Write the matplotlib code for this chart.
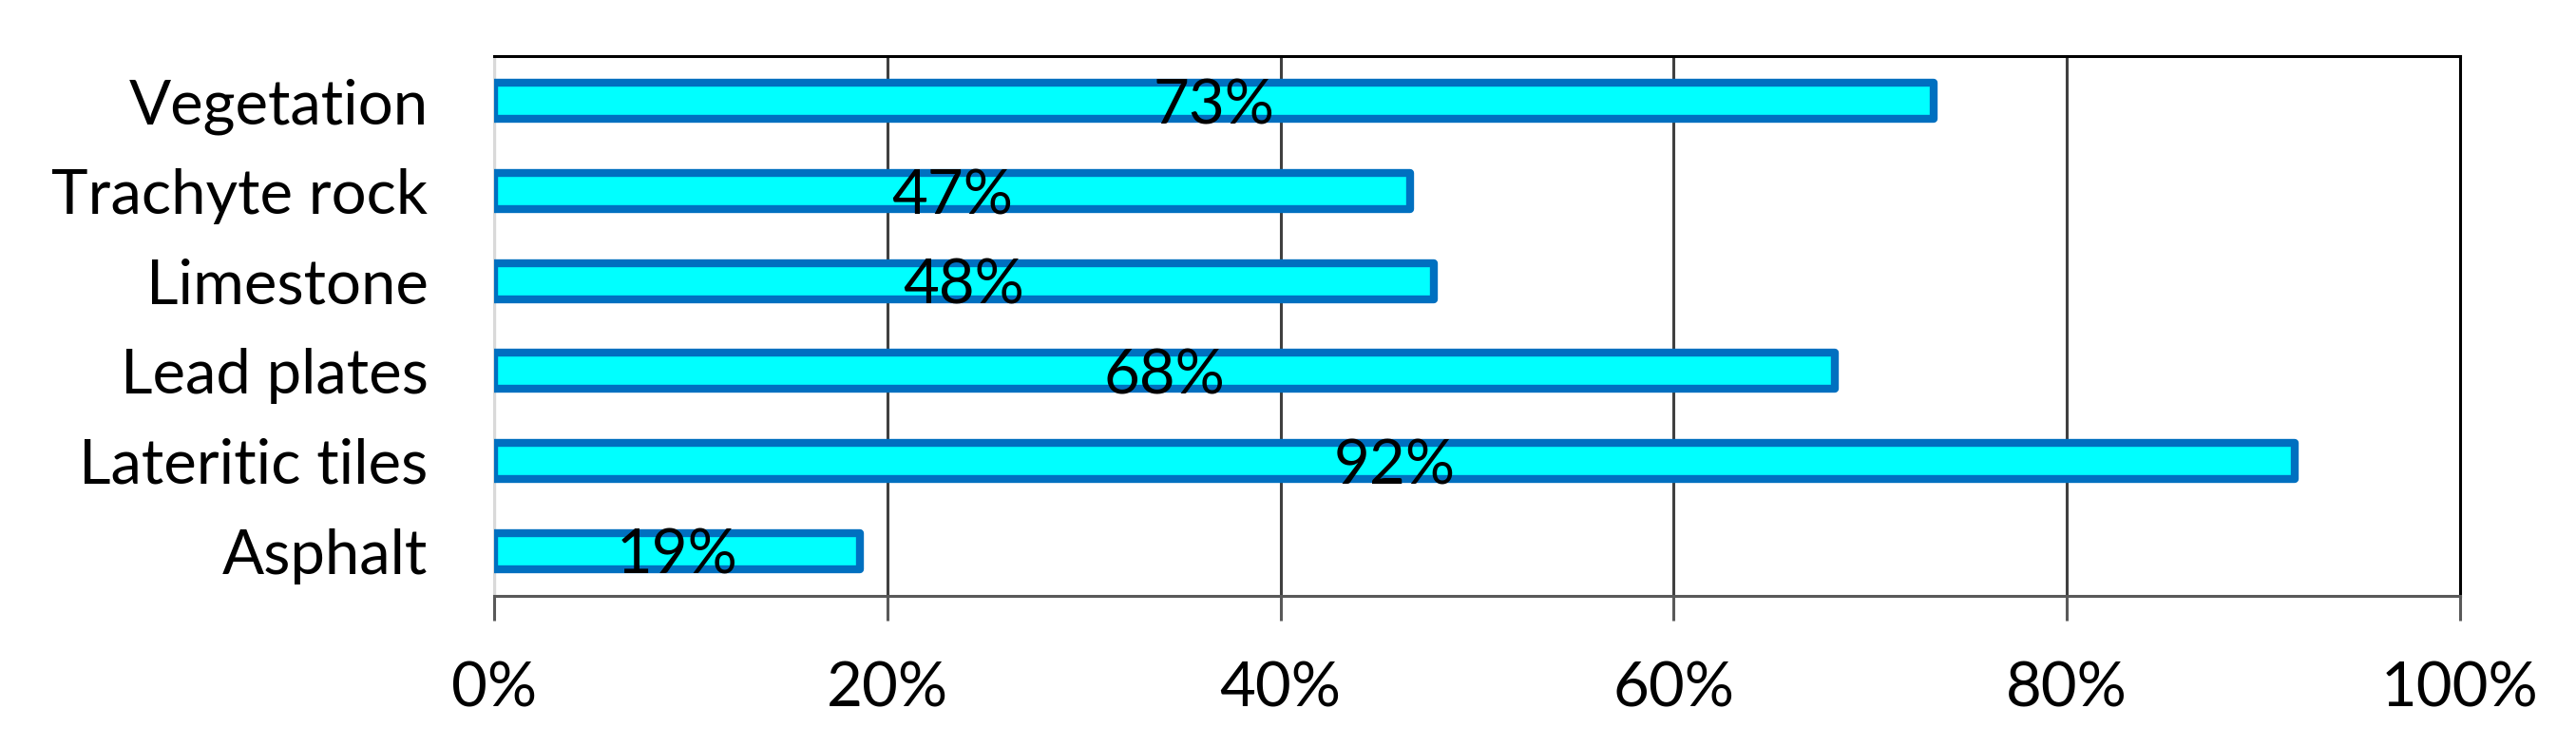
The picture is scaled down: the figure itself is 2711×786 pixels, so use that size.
import matplotlib
matplotlib.use('Agg')
import matplotlib.pyplot as plt
import numpy as np

# data (top to bottom)
categories = ['Vegetation', 'Trachyte rock', 'Limestone', 'Lead plates', 'Lateritic tiles', 'Asphalt']
values = [73.2, 46.6, 47.8, 68.2, 91.6, 18.6]
x_ticks = [0, 20, 40, 60, 80, 100]
x_tick_labels = ['0%', '20%', '40%', '60%', '80%', '100%']

plt.rcParams['font.family'] = ['Lato', 'DejaVu Sans']

fig = plt.figure(figsize=(27.11, 7.86), dpi=100)
ax = fig.add_axes([0.1918, 0.2023, 0.9550 - 0.1918, 0.925 - 0.2023])

# y positions: first category on top
ypos = np.arange(len(categories))[::-1]

bars = ax.barh(ypos, values, height=0.40, color='#00FFFF', edgecolor='#0070C0',
               linewidth=6, zorder=3)
for b in bars:
    b.set_joinstyle('round')

# value labels in the middle of each bar, sitting a bit low like the original
for y, v in zip(ypos, values):
    ax.text(v / 2, y - 0.06, f'{v:.0f}%', ha='center', va='center',
            fontsize=47, color='black', zorder=4)

ax.set_xlim(0, 100)
ax.set_ylim(-0.5, len(categories) - 0.5)
ax.set_xticks(x_ticks)
ax.set_xticklabels(x_tick_labels)
ax.set_yticks(ypos)
ax.set_yticklabels(categories)

# vertical gridlines
ax.xaxis.grid(True, color='#404040', linewidth=2.2, zorder=0)
ax.set_axisbelow(True)

ax.tick_params(axis='x', direction='out', length=19, width=2.2, color='#595959',
               pad=30, labelsize=47)
ax.tick_params(axis='y', length=0, pad=50, labelsize=47)

ax.spines['top'].set_color('black')
ax.spines['top'].set_linewidth(2.2)
ax.spines['right'].set_color('black')
ax.spines['right'].set_linewidth(2.2)
ax.spines['bottom'].set_color('#595959')
ax.spines['bottom'].set_linewidth(2.2)
ax.spines['left'].set_color('#d9d9d9')
ax.spines['left'].set_linewidth(2.2)

fig.savefig('out.png', dpi=100)
